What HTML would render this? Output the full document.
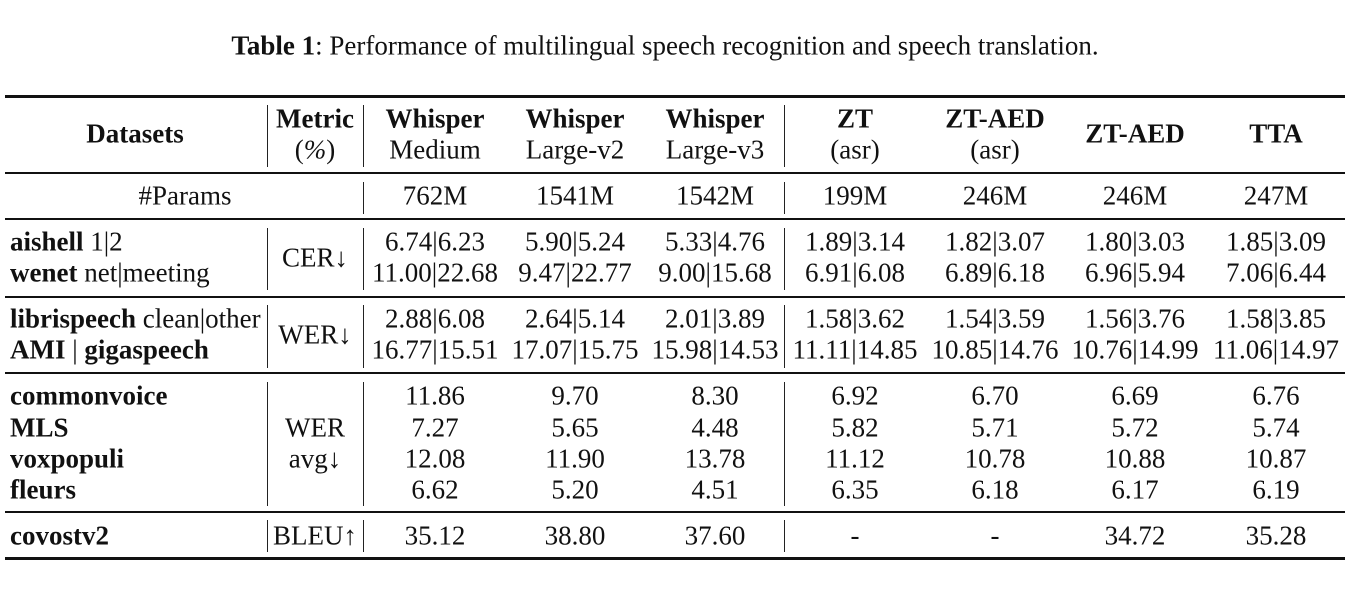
<!DOCTYPE html>
<html><head><meta charset="utf-8"><style>
body{margin:0;width:1351px;height:590px;background:#fff;position:relative;overflow:hidden;font-family:"Liberation Serif","Times New Roman",Times,Tinos,serif;color:#111;font-size:27px}
.t,.l{font-family:"Liberation Serif","Times New Roman",Times,Tinos,serif}
.t{position:absolute;white-space:nowrap;line-height:1;transform:translate(-50%,-50%)}
.l{position:absolute;white-space:nowrap;line-height:1;transform:translateY(-50%)}
.h{position:absolute;background:#111;left:5px;width:1340px}
.v{position:absolute;background:#222;width:1.3px}
b{font-weight:bold}
</style></head><body>
<div class="t" style="left:665px;top:46px;font-size:27px"><b>Table 1</b>: Performance of multilingual speech recognition and speech translation.</div>
<div class="h" style="top:95px;height:3px"></div>
<div class="h" style="top:172px;height:1.5px"></div>
<div class="h" style="top:218px;height:1.5px"></div>
<div class="h" style="top:296px;height:1.5px"></div>
<div class="h" style="top:372px;height:1.5px"></div>
<div class="h" style="top:511px;height:1.5px"></div>
<div class="h" style="top:557px;height:3px"></div>
<script>
const cols=[435,575,715,855,995,1135,1276];
const heads=[["Whisper","Medium"],["Whisper","Large-v2"],["Whisper","Large-v3"],["ZT","(asr)"],["ZT-AED","(asr)"],["ZT-AED",""],["TTA",""]];
const params=["762M","1541M","1542M","199M","246M","246M","247M"];
const cer1=["6.74|6.23","5.90|5.24","5.33|4.76","1.89|3.14","1.82|3.07","1.80|3.03","1.85|3.09"];
const cer2=["11.00|22.68","9.47|22.77","9.00|15.68","6.91|6.08","6.89|6.18","6.96|5.94","7.06|6.44"];
const wer1=["2.88|6.08","2.64|5.14","2.01|3.89","1.58|3.62","1.54|3.59","1.56|3.76","1.58|3.85"];
const wer2=["16.77|15.51","17.07|15.75","15.98|14.53","11.11|14.85","10.85|14.76","10.76|14.99","11.06|14.97"];
const cv=["11.86","9.70","8.30","6.92","6.70","6.69","6.76"];
const mls=["7.27","5.65","4.48","5.82","5.71","5.72","5.74"];
const vox=["12.08","11.90","13.78","11.12","10.78","10.88","10.87"];
const fl=["6.62","5.20","4.51","6.35","6.18","6.17","6.19"];
const bleu=["35.12","38.80","37.60","-","-","34.72","35.28"];
const root=document.body;
function txt(cls,x,y,html,name){
 const d=document.createElement('div');d.className=cls;d.style.left=x+'px';d.style.top=y+'px';d.innerHTML=html;
 
 
 root.appendChild(d);}
function vl(x,y1,y2,name){
 const d=document.createElement('div');d.className='v';d.style.left=x+'px';d.style.top=y1+'px';d.style.height=(y2-y1)+'px';
 
 
 root.appendChild(d);}
txt('t',135,134,'<b>Datasets</b>','datasets-header');
txt('t',315,119,'<b>Metric</b>','metric-header');
txt('t',315,150,'(<i>%</i>)','metric-unit');
heads.forEach((h,i)=>{
 if(h[1]){txt('t',cols[i],119,'<b>'+h[0]+'</b>','model-header');txt('t',cols[i],150,h[1],'model-subheader');}
 else txt('t',cols[i],134,'<b>'+h[0]+'</b>','model-header');
});
txt('t',185,196,'#Params','params-label');
const rows=[[params,196],[cer1,242],[cer2,273],[wer1,319],[wer2,350],[cv,396],[mls,428],[vox,459],[fl,490],[bleu,536]];
rows.forEach(([arr,y])=>arr.forEach((v,i)=>txt('t',cols[i],y,v,'cell-value')));
txt('l',10,242,'<b>aishell</b> 1|2','dataset-aishell');
txt('l',10,273,'<b>wenet</b> net|meeting','dataset-wenet');
txt('l',10,319,'<b>librispeech</b> clean|other','dataset-librispeech');
txt('l',10,350,'<b>AMI</b> | <b>gigaspeech</b>','dataset-ami');
txt('l',10,396,'<b>commonvoice</b>','dataset-commonvoice');
txt('l',10,428,'<b>MLS</b>','dataset-mls');
txt('l',10,459,'<b>voxpopuli</b>','dataset-voxpopuli');
txt('l',10,490,'<b>fleurs</b>','dataset-fleurs');
txt('l',10,536,'<b>covostv2</b>','dataset-covostv2');
txt('t',315,258,'CER↓','metric-cer');
txt('t',315,335,'WER↓','metric-wer');
txt('t',315,428,'WER','metric-wer-avg');
txt('t',315,459,'avg↓','metric-avg');
txt('t',315,536,'BLEU↑','metric-bleu');
[[105,167],[228,290],[305,368],[382,506],[520,552]].forEach(([a,b])=>{vl(267,a,b,'col-divider');vl(363,a,b,'col-divider');vl(784,a,b,'col-divider');});
vl(363,182,214,'col-divider');vl(784,182,214,'col-divider');
</script>
</body></html>
